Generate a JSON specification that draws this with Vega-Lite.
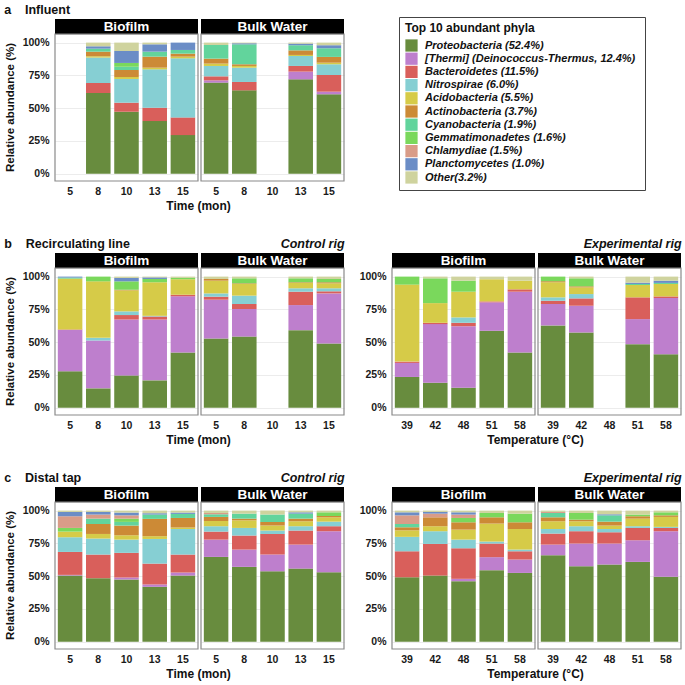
{
  "$schema": "https://vega.github.io/schema/vega-lite/v6.json",
  "padding": {"left": 4, "right": 1, "top": 3, "bottom": 2},
  "data": {"values": [
    {"panel":"a","type":"Biofilm","x":"8","Proteobacteria":0.616,"Bacteroidetes":0.076,"Nitrospirae":0.194,"Acidobacteria":0.010,"Actinobacteria":0.035,"Cyanobacteria":0.023,"Planctomycetes":0.018,"Other":0.028},
    {"panel":"a","type":"Biofilm","x":"10","Proteobacteria":0.473,"Bacteroidetes":0.069,"Nitrospirae":0.181,"Acidobacteria":0.015,"Actinobacteria":0.053,"Cyanobacteria":0.025,"Gemmatimonadetes":0.029,"Planctomycetes":0.091,"Other":0.064},
    {"panel":"a","type":"Biofilm","x":"13","Proteobacteria":0.402,"Bacteroidetes":0.102,"Nitrospirae":0.292,"Acidobacteria":0.013,"Actinobacteria":0.084,"Cyanobacteria":0.038,"Planctomycetes":0.056,"Other":0.013},
    {"panel":"a","type":"Biofilm","x":"15","Proteobacteria":0.295,"Bacteroidetes":0.135,"Nitrospirae":0.450,"Acidobacteria":0.013,"Actinobacteria":0.023,"Cyanobacteria":0.028,"Planctomycetes":0.056},
    {"panel":"a","type":"Bulk Water","x":"5","Proteobacteria":0.695,"Thermi":0.017,"Bacteroidetes":0.031,"Nitrospirae":0.079,"Acidobacteria":0.018,"Actinobacteria":0.038,"Cyanobacteria":0.104,"Other":0.018},
    {"panel":"a","type":"Bulk Water","x":"8","Proteobacteria":0.636,"Bacteroidetes":0.064,"Nitrospirae":0.109,"Acidobacteria":0.013,"Actinobacteria":0.013,"Cyanobacteria":0.152,"Planctomycetes":0.008,"Other":0.005},
    {"panel":"a","type":"Bulk Water","x":"13","Proteobacteria":0.720,"Thermi":0.059,"Bacteroidetes":0.043,"Nitrospirae":0.076,"Acidobacteria":0.008,"Actinobacteria":0.035,"Cyanobacteria":0.039,"Planctomycetes":0.012,"Other":0.008},
    {"panel":"a","type":"Bulk Water","x":"15","Proteobacteria":0.606,"Thermi":0.020,"Bacteroidetes":0.127,"Nitrospirae":0.082,"Acidobacteria":0.012,"Actinobacteria":0.044,"Cyanobacteria":0.066,"Planctomycetes":0.023,"Other":0.020},

    {"panel":"bc","type":"Biofilm","x":"5","Proteobacteria":0.278,"Thermi":0.316,"Bacteroidetes":0.003,"Acidobacteria":0.388,"Cyanobacteria":0.008,"Planctomycetes":0.007},
    {"panel":"bc","type":"Biofilm","x":"8","Proteobacteria":0.148,"Thermi":0.365,"Nitrospirae":0.020,"Acidobacteria":0.431,"Gemmatimonadetes":0.036},
    {"panel":"bc","type":"Biofilm","x":"10","Proteobacteria":0.247,"Thermi":0.426,"Bacteroidetes":0.034,"Nitrospirae":0.028,"Acidobacteria":0.160,"Actinobacteria":0.005,"Gemmatimonadetes":0.064,"Planctomycetes":0.026,"Other":0.010},
    {"panel":"bc","type":"Biofilm","x":"13","Proteobacteria":0.209,"Thermi":0.464,"Bacteroidetes":0.023,"Nitrospirae":0.005,"Acidobacteria":0.256,"Gemmatimonadetes":0.025,"Planctomycetes":0.012,"Other":0.006},
    {"panel":"bc","type":"Biofilm","x":"15","Proteobacteria":0.421,"Thermi":0.429,"Bacteroidetes":0.012,"Acidobacteria":0.118,"Gemmatimonadetes":0.010,"Other":0.010},
    {"panel":"bc","type":"Bulk Water","x":"5","Proteobacteria":0.528,"Thermi":0.296,"Bacteroidetes":0.023,"Nitrospirae":0.025,"Acidobacteria":0.097,"Actinobacteria":0.013,"Other":0.018},
    {"panel":"bc","type":"Bulk Water","x":"8","Proteobacteria":0.543,"Thermi":0.210,"Bacteroidetes":0.038,"Nitrospirae":0.064,"Acidobacteria":0.089,"Actinobacteria":0.005,"Gemmatimonadetes":0.038,"Other":0.013},
    {"panel":"bc","type":"Bulk Water","x":"13","Proteobacteria":0.592,"Thermi":0.191,"Bacteroidetes":0.102,"Nitrospirae":0.026,"Acidobacteria":0.041,"Actinobacteria":0.005,"Gemmatimonadetes":0.030,"Other":0.013},
    {"panel":"bc","type":"Bulk Water","x":"15","Proteobacteria":0.490,"Thermi":0.382,"Bacteroidetes":0.016,"Nitrospirae":0.023,"Acidobacteria":0.038,"Actinobacteria":0.008,"Gemmatimonadetes":0.025,"Other":0.018},

    {"panel":"be","type":"Biofilm","x":"39","Proteobacteria":0.235,"Thermi":0.107,"Bacteroidetes":0.010,"Acidobacteria":0.587,"Gemmatimonadetes":0.061},
    {"panel":"be","type":"Biofilm","x":"42","Proteobacteria":0.191,"Thermi":0.447,"Bacteroidetes":0.010,"Acidobacteria":0.150,"Gemmatimonadetes":0.189,"Other":0.013},
    {"panel":"be","type":"Biofilm","x":"48","Proteobacteria":0.153,"Thermi":0.469,"Bacteroidetes":0.026,"Nitrospirae":0.041,"Acidobacteria":0.196,"Gemmatimonadetes":0.084,"Other":0.031},
    {"panel":"be","type":"Biofilm","x":"51","Proteobacteria":0.587,"Thermi":0.217,"Bacteroidetes":0.007,"Acidobacteria":0.169,"Other":0.020},
    {"panel":"be","type":"Biofilm","x":"58","Proteobacteria":0.421,"Thermi":0.464,"Bacteroidetes":0.018,"Acidobacteria":0.066,"Other":0.031},
    {"panel":"be","type":"Bulk Water","x":"39","Proteobacteria":0.628,"Thermi":0.163,"Bacteroidetes":0.025,"Nitrospirae":0.026,"Acidobacteria":0.115,"Actinobacteria":0.008,"Gemmatimonadetes":0.035},
    {"panel":"be","type":"Bulk Water","x":"42","Proteobacteria":0.574,"Thermi":0.204,"Bacteroidetes":0.056,"Nitrospirae":0.033,"Acidobacteria":0.051,"Actinobacteria":0.008,"Gemmatimonadetes":0.061,"Other":0.013},
    {"panel":"be","type":"Bulk Water","x":"51","Proteobacteria":0.485,"Thermi":0.191,"Bacteroidetes":0.166,"Acidobacteria":0.094,"Cyanobacteria":0.008,"Planctomycetes":0.010,"Other":0.046},
    {"panel":"be","type":"Bulk Water","x":"58","Proteobacteria":0.408,"Thermi":0.429,"Bacteroidetes":0.012,"Acidobacteria":0.095,"Cyanobacteria":0.008,"Planctomycetes":0.017,"Other":0.031},

    {"panel":"cc","type":"Biofilm","x":"5","Proteobacteria":0.505,"Thermi":0.005,"Bacteroidetes":0.175,"Nitrospirae":0.112,"Acidobacteria":0.043,"Gemmatimonadetes":0.028,"Chlamydiae":0.089,"Planctomycetes":0.033,"Other":0.010},
    {"panel":"cc","type":"Biofilm","x":"8","Proteobacteria":0.485,"Bacteroidetes":0.180,"Nitrospirae":0.122,"Acidobacteria":0.035,"Actinobacteria":0.076,"Cyanobacteria":0.041,"Chlamydiae":0.031,"Planctomycetes":0.020,"Other":0.010},
    {"panel":"cc","type":"Biofilm","x":"10","Proteobacteria":0.475,"Thermi":0.015,"Bacteroidetes":0.188,"Nitrospirae":0.101,"Acidobacteria":0.033,"Actinobacteria":0.074,"Cyanobacteria":0.028,"Gemmatimonadetes":0.025,"Chlamydiae":0.025,"Planctomycetes":0.021,"Other":0.015},
    {"panel":"cc","type":"Biofilm","x":"13","Proteobacteria":0.419,"Thermi":0.018,"Bacteroidetes":0.159,"Nitrospirae":0.188,"Acidobacteria":0.021,"Actinobacteria":0.132,"Cyanobacteria":0.033,"Planctomycetes":0.010,"Other":0.020},
    {"panel":"cc","type":"Biofilm","x":"15","Proteobacteria":0.505,"Thermi":0.023,"Bacteroidetes":0.137,"Nitrospirae":0.195,"Acidobacteria":0.011,"Actinobacteria":0.073,"Cyanobacteria":0.031,"Planctomycetes":0.010,"Other":0.015},
    {"panel":"cc","type":"Bulk Water","x":"5","Proteobacteria":0.647,"Thermi":0.132,"Bacteroidetes":0.061,"Nitrospirae":0.041,"Acidobacteria":0.040,"Actinobacteria":0.031,"Cyanobacteria":0.020,"Chlamydiae":0.010,"Other":0.018},
    {"panel":"cc","type":"Bulk Water","x":"8","Proteobacteria":0.571,"Thermi":0.132,"Bacteroidetes":0.107,"Nitrospirae":0.058,"Acidobacteria":0.058,"Actinobacteria":0.013,"Cyanobacteria":0.038,"Other":0.023},
    {"panel":"cc","type":"Bulk Water","x":"10","Proteobacteria":0.538,"Thermi":0.127,"Bacteroidetes":0.157,"Nitrospirae":0.026,"Acidobacteria":0.038,"Actinobacteria":0.028,"Cyanobacteria":0.056,"Other":0.030},
    {"panel":"cc","type":"Bulk Water","x":"13","Proteobacteria":0.558,"Thermi":0.183,"Bacteroidetes":0.107,"Nitrospirae":0.033,"Acidobacteria":0.038,"Actinobacteria":0.020,"Cyanobacteria":0.038,"Planctomycetes":0.010,"Other":0.013},
    {"panel":"cc","type":"Bulk Water","x":"15","Proteobacteria":0.530,"Thermi":0.313,"Bacteroidetes":0.038,"Nitrospirae":0.035,"Acidobacteria":0.033,"Actinobacteria":0.010,"Gemmatimonadetes":0.028,"Other":0.013},

    {"panel":"ce","type":"Biofilm","x":"39","Proteobacteria":0.492,"Bacteroidetes":0.198,"Nitrospirae":0.110,"Acidobacteria":0.050,"Actinobacteria":0.023,"Cyanobacteria":0.025,"Chlamydiae":0.066,"Planctomycetes":0.023,"Other":0.013},
    {"panel":"ce","type":"Biofilm","x":"42","Proteobacteria":0.505,"Bacteroidetes":0.241,"Nitrospirae":0.097,"Acidobacteria":0.038,"Actinobacteria":0.068,"Chlamydiae":0.028,"Planctomycetes":0.013,"Other":0.010},
    {"panel":"ce","type":"Biofilm","x":"48","Proteobacteria":0.462,"Thermi":0.018,"Bacteroidetes":0.233,"Nitrospirae":0.066,"Acidobacteria":0.076,"Actinobacteria":0.056,"Gemmatimonadetes":0.033,"Chlamydiae":0.026,"Planctomycetes":0.017,"Other":0.013},
    {"panel":"ce","type":"Biofilm","x":"51","Proteobacteria":0.546,"Thermi":0.099,"Bacteroidetes":0.104,"Nitrospirae":0.015,"Acidobacteria":0.137,"Actinobacteria":0.048,"Gemmatimonadetes":0.033,"Other":0.018},
    {"panel":"ce","type":"Biofilm","x":"58","Proteobacteria":0.525,"Thermi":0.102,"Bacteroidetes":0.063,"Nitrospirae":0.013,"Acidobacteria":0.157,"Actinobacteria":0.051,"Gemmatimonadetes":0.066,"Other":0.023},
    {"panel":"ce","type":"Bulk Water","x":"39","Proteobacteria":0.660,"Thermi":0.081,"Bacteroidetes":0.084,"Nitrospirae":0.035,"Acidobacteria":0.059,"Actinobacteria":0.030,"Cyanobacteria":0.033,"Chlamydiae":0.008,"Other":0.010},
    {"panel":"ce","type":"Bulk Water","x":"42","Proteobacteria":0.576,"Thermi":0.173,"Bacteroidetes":0.094,"Nitrospirae":0.038,"Acidobacteria":0.038,"Actinobacteria":0.012,"Gemmatimonadetes":0.051,"Other":0.018},
    {"panel":"ce","type":"Bulk Water","x":"48","Proteobacteria":0.589,"Thermi":0.160,"Bacteroidetes":0.086,"Nitrospirae":0.025,"Acidobacteria":0.026,"Actinobacteria":0.030,"Cyanobacteria":0.048,"Planctomycetes":0.008,"Other":0.028},
    {"panel":"ce","type":"Bulk Water","x":"51","Proteobacteria":0.609,"Thermi":0.165,"Bacteroidetes":0.094,"Nitrospirae":0.013,"Acidobacteria":0.058,"Actinobacteria":0.018,"Gemmatimonadetes":0.013,"Other":0.030},
    {"panel":"ce","type":"Bulk Water","x":"58","Proteobacteria":0.495,"Thermi":0.348,"Bacteroidetes":0.025,"Nitrospirae":0.008,"Acidobacteria":0.076,"Actinobacteria":0.012,"Gemmatimonadetes":0.023,"Other":0.013}
  ]},
  "transform": [
    {"fold": ["Proteobacteria","Thermi","Bacteroidetes","Nitrospirae","Acidobacteria","Actinobacteria","Cyanobacteria","Gemmatimonadetes","Chlamydiae","Planctomycetes","Other"], "as": ["phylum","share"]},
    {"filter": "datum.share > 0"},
    {"window": [{"op": "row_number", "as": "rank"}], "groupby": ["panel","type","x"]}
  ],
  "spacing": 25,
  "vconcat": [
    {
      "hconcat": [
        {
          "width": 143, "height": 162,
          "title": {"text": "a\u00a0\u00a0\u00a0\u00a0Influent", "anchor": "start"},
          "layer": [
            {"transform": [{"filter": "datum.panel === 'a' && datum.type === 'Biofilm'"}],
             "mark": "bar",
             "encoding": {
               "x": {"field": "x", "type": "nominal", "scale": {"domain": ["5","8","10","13","15"], "paddingInner": 0.13, "paddingOuter": 0.1}, "axis": {"title": "Time (mon)", "titleAnchor": "end", "titleAlign": "center", "labelAngle": 0, "ticks": false, "domain": false, "labelPadding": 5, "labelFontSize": 10.5, "labelFontWeight": "bold", "titleFontSize": 12, "titleFontWeight": "bold", "titlePadding": 4}},
               "y": {"field": "share", "type": "quantitative", "scale": {"domain": [-0.055, 1.18], "nice": false, "zero": false}, "axis": {"values": [0,0.25,0.5,0.75,1], "format": ".0%", "title": "Relative abundance (%)", "titleY": 88, "ticks": false, "domain": false, "grid": true, "gridColor": "#ececec", "labelPadding": 6, "labelFontSize": 10.5, "labelFontWeight": "bold", "titleFontSize": 11.5, "titleFontWeight": "bold", "titlePadding": 7}},
               "color": {"field": "phylum", "type": "nominal",
                 "scale": {"domain": ["Proteobacteria","Thermi","Bacteroidetes","Nitrospirae","Acidobacteria","Actinobacteria","Cyanobacteria","Gemmatimonadetes","Chlamydiae","Planctomycetes","Other"], "range": ["#688C3E","#BE7FCD","#D95F5B","#86CFD3","#D6CB48","#CC8A36","#62D49C","#7AD85C","#D99C88","#6B8DC6","#CFD39E"]},
                 "legend": {"orient": "none", "legendX": 344, "legendY": -2, "title": "Top 10 abundant phyla", "padding": 6, "strokeColor": "#444444", "fillColor": "#ffffff", "titleFontSize": 12, "titleFontWeight": "bold", "titleColor": "#111111", "titlePadding": 4, "titleLimit": 300, "labelFontSize": 11, "labelFontStyle": "italic", "labelFontWeight": "bold", "labelColor": "#111111", "labelLimit": 300, "labelOffset": 7, "symbolType": "square", "symbolSize": 150, "symbolStrokeWidth": 0, "symbolOpacity": 1, "rowPadding": 0.2,
                   "labelExpr": "{'Proteobacteria':'Proteobacteria (52.4%)','Thermi':'[Thermi] (Deinococcus-Thermus,  12.4%)','Bacteroidetes':'Bacteroidetes (11.5%)','Nitrospirae':'Nitrospirae (6.0%)','Acidobacteria':'Acidobacteria (5.5%)','Actinobacteria':'Actinobacteria (3.7%)','Cyanobacteria':'Cyanobacteria (1.9%)','Gemmatimonadetes':'Gemmatimonadetes (1.6%)','Chlamydiae':'Chlamydiae (1.5%)','Planctomycetes':'Planctomycetes (1.0%)','Other':'Other(3.2%)'}[datum.label]"}},
               "order": {"field": "rank", "type": "quantitative"}
             }},
            {"data": {"values": [{"label": "Biofilm"}]},
             "layer": [
               {"mark": {"type": "rect", "color": "#000000"}, "encoding": {"y": {"datum": 1.065}, "y2": {"datum": 1.18}}},
               {"mark": {"type": "text", "color": "#ffffff", "fontWeight": "bold", "fontSize": 13.5, "baseline": "middle"}, "encoding": {"text": {"field": "label"}, "y": {"datum": 1.1225}}},
               {"mark": {"type": "rect", "fill": "#ffffff", "fillOpacity": 0, "stroke": "#8a8a8a", "strokeWidth": 1.2}, "encoding": {"y": {"datum": -0.055}, "y2": {"datum": 1.065}}}
             ]}
          ]
        },
        {
          "width": 143, "height": 162,
          "layer": [
            {"transform": [{"filter": "datum.panel === 'a' && datum.type === 'Bulk Water'"}],
             "mark": "bar",
             "encoding": {
               "x": {"field": "x", "type": "nominal", "scale": {"domain": ["5","8","10","13","15"], "paddingInner": 0.13, "paddingOuter": 0.1}, "axis": {"title": null, "labelAngle": 0, "ticks": false, "domain": false, "labelPadding": 5, "labelFontSize": 10.5, "labelFontWeight": "bold"}},
               "y": {"field": "share", "type": "quantitative", "scale": {"domain": [-0.055, 1.18], "nice": false, "zero": false}, "axis": {"values": [0,0.25,0.5,0.75,1], "labels": false, "title": null, "ticks": false, "domain": false, "grid": true, "gridColor": "#ececec"}},
               "color": {"field": "phylum", "type": "nominal", "legend": null,
                 "scale": {"domain": ["Proteobacteria","Thermi","Bacteroidetes","Nitrospirae","Acidobacteria","Actinobacteria","Cyanobacteria","Gemmatimonadetes","Chlamydiae","Planctomycetes","Other"], "range": ["#688C3E","#BE7FCD","#D95F5B","#86CFD3","#D6CB48","#CC8A36","#62D49C","#7AD85C","#D99C88","#6B8DC6","#CFD39E"]}},
               "order": {"field": "rank", "type": "quantitative"}
             }},
            {"data": {"values": [{"label": "Bulk Water"}]},
             "layer": [
               {"mark": {"type": "rect", "color": "#000000"}, "encoding": {"y": {"datum": 1.065}, "y2": {"datum": 1.18}}},
               {"mark": {"type": "text", "color": "#ffffff", "fontWeight": "bold", "fontSize": 13.5, "baseline": "middle"}, "encoding": {"text": {"field": "label"}, "y": {"datum": 1.1225}}},
               {"mark": {"type": "rect", "fill": "#ffffff", "fillOpacity": 0, "stroke": "#8a8a8a", "strokeWidth": 1.2}, "encoding": {"y": {"datum": -0.055}, "y2": {"datum": 1.065}}}
             ]}
          ]
        }
      ],
      "spacing": 3,
      "bounds": "flush"
    },
    {
      "spacing": 14,
      "hconcat": [
        {
          "spacing": 3, "bounds": "flush",
          "hconcat": [
            {
              "width": 143, "height": 162,
              "title": {"text": "b\u00a0\u00a0\u00a0\u00a0Recirculating line", "anchor": "start"},
              "layer": [
                {"transform": [{"filter": "datum.panel === 'bc' && datum.type === 'Biofilm'"}],
                 "mark": "bar",
                 "encoding": {
                   "x": {"field": "x", "type": "nominal", "scale": {"domain": ["5","8","10","13","15"], "paddingInner": 0.13, "paddingOuter": 0.1}, "axis": {"title": "Time (mon)", "titleAnchor": "end", "titleAlign": "center", "labelAngle": 0, "ticks": false, "domain": false, "labelPadding": 5, "labelFontSize": 10.5, "labelFontWeight": "bold", "titleFontSize": 12, "titleFontWeight": "bold", "titlePadding": 4}},
                   "y": {"field": "share", "type": "quantitative", "scale": {"domain": [-0.055, 1.18], "nice": false, "zero": false}, "axis": {"values": [0,0.25,0.5,0.75,1], "format": ".0%", "title": "Relative abundance (%)", "titleY": 88, "ticks": false, "domain": false, "grid": true, "gridColor": "#ececec", "labelPadding": 6, "labelFontSize": 10.5, "labelFontWeight": "bold", "titleFontSize": 11.5, "titleFontWeight": "bold", "titlePadding": 7}},
                   "color": {"field": "phylum", "type": "nominal", "legend": null,
                     "scale": {"domain": ["Proteobacteria","Thermi","Bacteroidetes","Nitrospirae","Acidobacteria","Actinobacteria","Cyanobacteria","Gemmatimonadetes","Chlamydiae","Planctomycetes","Other"], "range": ["#688C3E","#BE7FCD","#D95F5B","#86CFD3","#D6CB48","#CC8A36","#62D49C","#7AD85C","#D99C88","#6B8DC6","#CFD39E"]}},
                   "order": {"field": "rank", "type": "quantitative"}
                 }},
                {"data": {"values": [{"label": "Biofilm"}]},
                 "layer": [
                   {"mark": {"type": "rect", "color": "#000000"}, "encoding": {"y": {"datum": 1.065}, "y2": {"datum": 1.18}}},
                   {"mark": {"type": "text", "color": "#ffffff", "fontWeight": "bold", "fontSize": 13.5, "baseline": "middle"}, "encoding": {"text": {"field": "label"}, "y": {"datum": 1.1225}}},
                   {"mark": {"type": "rect", "fill": "#ffffff", "fillOpacity": 0, "stroke": "#8a8a8a", "strokeWidth": 1.2}, "encoding": {"y": {"datum": -0.055}, "y2": {"datum": 1.065}}}
                 ]}
              ]
            },
            {
              "width": 143, "height": 162,
              "title": {"text": "Control rig", "anchor": "end", "fontStyle": "italic"},
              "layer": [
                {"transform": [{"filter": "datum.panel === 'bc' && datum.type === 'Bulk Water'"}],
                 "mark": "bar",
                 "encoding": {
                   "x": {"field": "x", "type": "nominal", "scale": {"domain": ["5","8","10","13","15"], "paddingInner": 0.13, "paddingOuter": 0.1}, "axis": {"title": null, "labelAngle": 0, "ticks": false, "domain": false, "labelPadding": 5, "labelFontSize": 10.5, "labelFontWeight": "bold"}},
                   "y": {"field": "share", "type": "quantitative", "scale": {"domain": [-0.055, 1.18], "nice": false, "zero": false}, "axis": {"values": [0,0.25,0.5,0.75,1], "labels": false, "title": null, "ticks": false, "domain": false, "grid": true, "gridColor": "#ececec"}},
                   "color": {"field": "phylum", "type": "nominal", "legend": null,
                     "scale": {"domain": ["Proteobacteria","Thermi","Bacteroidetes","Nitrospirae","Acidobacteria","Actinobacteria","Cyanobacteria","Gemmatimonadetes","Chlamydiae","Planctomycetes","Other"], "range": ["#688C3E","#BE7FCD","#D95F5B","#86CFD3","#D6CB48","#CC8A36","#62D49C","#7AD85C","#D99C88","#6B8DC6","#CFD39E"]}},
                   "order": {"field": "rank", "type": "quantitative"}
                 }},
                {"data": {"values": [{"label": "Bulk Water"}]},
                 "layer": [
                   {"mark": {"type": "rect", "color": "#000000"}, "encoding": {"y": {"datum": 1.065}, "y2": {"datum": 1.18}}},
                   {"mark": {"type": "text", "color": "#ffffff", "fontWeight": "bold", "fontSize": 13.5, "baseline": "middle"}, "encoding": {"text": {"field": "label"}, "y": {"datum": 1.1225}}},
                   {"mark": {"type": "rect", "fill": "#ffffff", "fillOpacity": 0, "stroke": "#8a8a8a", "strokeWidth": 1.2}, "encoding": {"y": {"datum": -0.055}, "y2": {"datum": 1.065}}}
                 ]}
              ]
            }
          ]
        },
        {
          "spacing": 3, "bounds": "flush",
          "hconcat": [
            {
              "width": 143, "height": 162,
              "layer": [
                {"transform": [{"filter": "datum.panel === 'be' && datum.type === 'Biofilm'"}],
                 "mark": "bar",
                 "encoding": {
                   "x": {"field": "x", "type": "nominal", "scale": {"domain": ["39","42","48","51","58"], "paddingInner": 0.13, "paddingOuter": 0.1}, "axis": {"title": "Temperature (°C)", "titleAnchor": "end", "titleAlign": "center", "labelAngle": 0, "ticks": false, "domain": false, "labelPadding": 5, "labelFontSize": 10.5, "labelFontWeight": "bold", "titleFontSize": 12, "titleFontWeight": "bold", "titlePadding": 4}},
                   "y": {"field": "share", "type": "quantitative", "scale": {"domain": [-0.055, 1.18], "nice": false, "zero": false}, "axis": {"values": [0,0.25,0.5,0.75,1], "format": ".0%", "title": null, "ticks": false, "domain": false, "grid": true, "gridColor": "#ececec", "labelPadding": 6, "labelFontSize": 10.5, "labelFontWeight": "bold"}},
                   "color": {"field": "phylum", "type": "nominal", "legend": null,
                     "scale": {"domain": ["Proteobacteria","Thermi","Bacteroidetes","Nitrospirae","Acidobacteria","Actinobacteria","Cyanobacteria","Gemmatimonadetes","Chlamydiae","Planctomycetes","Other"], "range": ["#688C3E","#BE7FCD","#D95F5B","#86CFD3","#D6CB48","#CC8A36","#62D49C","#7AD85C","#D99C88","#6B8DC6","#CFD39E"]}},
                   "order": {"field": "rank", "type": "quantitative"}
                 }},
                {"data": {"values": [{"label": "Biofilm"}]},
                 "layer": [
                   {"mark": {"type": "rect", "color": "#000000"}, "encoding": {"y": {"datum": 1.065}, "y2": {"datum": 1.18}}},
                   {"mark": {"type": "text", "color": "#ffffff", "fontWeight": "bold", "fontSize": 13.5, "baseline": "middle"}, "encoding": {"text": {"field": "label"}, "y": {"datum": 1.1225}}},
                   {"mark": {"type": "rect", "fill": "#ffffff", "fillOpacity": 0, "stroke": "#8a8a8a", "strokeWidth": 1.2}, "encoding": {"y": {"datum": -0.055}, "y2": {"datum": 1.065}}}
                 ]}
              ]
            },
            {
              "width": 143, "height": 162,
              "title": {"text": "Experimental rig", "anchor": "end", "fontStyle": "italic"},
              "layer": [
                {"transform": [{"filter": "datum.panel === 'be' && datum.type === 'Bulk Water'"}],
                 "mark": "bar",
                 "encoding": {
                   "x": {"field": "x", "type": "nominal", "scale": {"domain": ["39","42","48","51","58"], "paddingInner": 0.13, "paddingOuter": 0.1}, "axis": {"title": null, "labelAngle": 0, "ticks": false, "domain": false, "labelPadding": 5, "labelFontSize": 10.5, "labelFontWeight": "bold"}},
                   "y": {"field": "share", "type": "quantitative", "scale": {"domain": [-0.055, 1.18], "nice": false, "zero": false}, "axis": {"values": [0,0.25,0.5,0.75,1], "labels": false, "title": null, "ticks": false, "domain": false, "grid": true, "gridColor": "#ececec"}},
                   "color": {"field": "phylum", "type": "nominal", "legend": null,
                     "scale": {"domain": ["Proteobacteria","Thermi","Bacteroidetes","Nitrospirae","Acidobacteria","Actinobacteria","Cyanobacteria","Gemmatimonadetes","Chlamydiae","Planctomycetes","Other"], "range": ["#688C3E","#BE7FCD","#D95F5B","#86CFD3","#D6CB48","#CC8A36","#62D49C","#7AD85C","#D99C88","#6B8DC6","#CFD39E"]}},
                   "order": {"field": "rank", "type": "quantitative"}
                 }},
                {"data": {"values": [{"label": "Bulk Water"}]},
                 "layer": [
                   {"mark": {"type": "rect", "color": "#000000"}, "encoding": {"y": {"datum": 1.065}, "y2": {"datum": 1.18}}},
                   {"mark": {"type": "text", "color": "#ffffff", "fontWeight": "bold", "fontSize": 13.5, "baseline": "middle"}, "encoding": {"text": {"field": "label"}, "y": {"datum": 1.1225}}},
                   {"mark": {"type": "rect", "fill": "#ffffff", "fillOpacity": 0, "stroke": "#8a8a8a", "strokeWidth": 1.2}, "encoding": {"y": {"datum": -0.055}, "y2": {"datum": 1.065}}}
                 ]}
              ]
            }
          ]
        }
      ]
    },
    {
      "spacing": 14,
      "hconcat": [
        {
          "spacing": 3, "bounds": "flush",
          "hconcat": [
            {
              "width": 143, "height": 162,
              "title": {"text": "c\u00a0\u00a0\u00a0\u00a0Distal tap", "anchor": "start"},
              "layer": [
                {"transform": [{"filter": "datum.panel === 'cc' && datum.type === 'Biofilm'"}],
                 "mark": "bar",
                 "encoding": {
                   "x": {"field": "x", "type": "nominal", "scale": {"domain": ["5","8","10","13","15"], "paddingInner": 0.13, "paddingOuter": 0.1}, "axis": {"title": "Time (mon)", "titleAnchor": "end", "titleAlign": "center", "labelAngle": 0, "ticks": false, "domain": false, "labelPadding": 5, "labelFontSize": 10.5, "labelFontWeight": "bold", "titleFontSize": 12, "titleFontWeight": "bold", "titlePadding": 4}},
                   "y": {"field": "share", "type": "quantitative", "scale": {"domain": [-0.055, 1.18], "nice": false, "zero": false}, "axis": {"values": [0,0.25,0.5,0.75,1], "format": ".0%", "title": "Relative abundance (%)", "titleY": 88, "ticks": false, "domain": false, "grid": true, "gridColor": "#ececec", "labelPadding": 6, "labelFontSize": 10.5, "labelFontWeight": "bold", "titleFontSize": 11.5, "titleFontWeight": "bold", "titlePadding": 7}},
                   "color": {"field": "phylum", "type": "nominal", "legend": null,
                     "scale": {"domain": ["Proteobacteria","Thermi","Bacteroidetes","Nitrospirae","Acidobacteria","Actinobacteria","Cyanobacteria","Gemmatimonadetes","Chlamydiae","Planctomycetes","Other"], "range": ["#688C3E","#BE7FCD","#D95F5B","#86CFD3","#D6CB48","#CC8A36","#62D49C","#7AD85C","#D99C88","#6B8DC6","#CFD39E"]}},
                   "order": {"field": "rank", "type": "quantitative"}
                 }},
                {"data": {"values": [{"label": "Biofilm"}]},
                 "layer": [
                   {"mark": {"type": "rect", "color": "#000000"}, "encoding": {"y": {"datum": 1.065}, "y2": {"datum": 1.18}}},
                   {"mark": {"type": "text", "color": "#ffffff", "fontWeight": "bold", "fontSize": 13.5, "baseline": "middle"}, "encoding": {"text": {"field": "label"}, "y": {"datum": 1.1225}}},
                   {"mark": {"type": "rect", "fill": "#ffffff", "fillOpacity": 0, "stroke": "#8a8a8a", "strokeWidth": 1.2}, "encoding": {"y": {"datum": -0.055}, "y2": {"datum": 1.065}}}
                 ]}
              ]
            },
            {
              "width": 143, "height": 162,
              "title": {"text": "Control rig", "anchor": "end", "fontStyle": "italic"},
              "layer": [
                {"transform": [{"filter": "datum.panel === 'cc' && datum.type === 'Bulk Water'"}],
                 "mark": "bar",
                 "encoding": {
                   "x": {"field": "x", "type": "nominal", "scale": {"domain": ["5","8","10","13","15"], "paddingInner": 0.13, "paddingOuter": 0.1}, "axis": {"title": null, "labelAngle": 0, "ticks": false, "domain": false, "labelPadding": 5, "labelFontSize": 10.5, "labelFontWeight": "bold"}},
                   "y": {"field": "share", "type": "quantitative", "scale": {"domain": [-0.055, 1.18], "nice": false, "zero": false}, "axis": {"values": [0,0.25,0.5,0.75,1], "labels": false, "title": null, "ticks": false, "domain": false, "grid": true, "gridColor": "#ececec"}},
                   "color": {"field": "phylum", "type": "nominal", "legend": null,
                     "scale": {"domain": ["Proteobacteria","Thermi","Bacteroidetes","Nitrospirae","Acidobacteria","Actinobacteria","Cyanobacteria","Gemmatimonadetes","Chlamydiae","Planctomycetes","Other"], "range": ["#688C3E","#BE7FCD","#D95F5B","#86CFD3","#D6CB48","#CC8A36","#62D49C","#7AD85C","#D99C88","#6B8DC6","#CFD39E"]}},
                   "order": {"field": "rank", "type": "quantitative"}
                 }},
                {"data": {"values": [{"label": "Bulk Water"}]},
                 "layer": [
                   {"mark": {"type": "rect", "color": "#000000"}, "encoding": {"y": {"datum": 1.065}, "y2": {"datum": 1.18}}},
                   {"mark": {"type": "text", "color": "#ffffff", "fontWeight": "bold", "fontSize": 13.5, "baseline": "middle"}, "encoding": {"text": {"field": "label"}, "y": {"datum": 1.1225}}},
                   {"mark": {"type": "rect", "fill": "#ffffff", "fillOpacity": 0, "stroke": "#8a8a8a", "strokeWidth": 1.2}, "encoding": {"y": {"datum": -0.055}, "y2": {"datum": 1.065}}}
                 ]}
              ]
            }
          ]
        },
        {
          "spacing": 3, "bounds": "flush",
          "hconcat": [
            {
              "width": 143, "height": 162,
              "layer": [
                {"transform": [{"filter": "datum.panel === 'ce' && datum.type === 'Biofilm'"}],
                 "mark": "bar",
                 "encoding": {
                   "x": {"field": "x", "type": "nominal", "scale": {"domain": ["39","42","48","51","58"], "paddingInner": 0.13, "paddingOuter": 0.1}, "axis": {"title": "Temperature (°C)", "titleAnchor": "end", "titleAlign": "center", "labelAngle": 0, "ticks": false, "domain": false, "labelPadding": 5, "labelFontSize": 10.5, "labelFontWeight": "bold", "titleFontSize": 12, "titleFontWeight": "bold", "titlePadding": 4}},
                   "y": {"field": "share", "type": "quantitative", "scale": {"domain": [-0.055, 1.18], "nice": false, "zero": false}, "axis": {"values": [0,0.25,0.5,0.75,1], "format": ".0%", "title": null, "ticks": false, "domain": false, "grid": true, "gridColor": "#ececec", "labelPadding": 6, "labelFontSize": 10.5, "labelFontWeight": "bold"}},
                   "color": {"field": "phylum", "type": "nominal", "legend": null,
                     "scale": {"domain": ["Proteobacteria","Thermi","Bacteroidetes","Nitrospirae","Acidobacteria","Actinobacteria","Cyanobacteria","Gemmatimonadetes","Chlamydiae","Planctomycetes","Other"], "range": ["#688C3E","#BE7FCD","#D95F5B","#86CFD3","#D6CB48","#CC8A36","#62D49C","#7AD85C","#D99C88","#6B8DC6","#CFD39E"]}},
                   "order": {"field": "rank", "type": "quantitative"}
                 }},
                {"data": {"values": [{"label": "Biofilm"}]},
                 "layer": [
                   {"mark": {"type": "rect", "color": "#000000"}, "encoding": {"y": {"datum": 1.065}, "y2": {"datum": 1.18}}},
                   {"mark": {"type": "text", "color": "#ffffff", "fontWeight": "bold", "fontSize": 13.5, "baseline": "middle"}, "encoding": {"text": {"field": "label"}, "y": {"datum": 1.1225}}},
                   {"mark": {"type": "rect", "fill": "#ffffff", "fillOpacity": 0, "stroke": "#8a8a8a", "strokeWidth": 1.2}, "encoding": {"y": {"datum": -0.055}, "y2": {"datum": 1.065}}}
                 ]}
              ]
            },
            {
              "width": 143, "height": 162,
              "title": {"text": "Experimental rig", "anchor": "end", "fontStyle": "italic"},
              "layer": [
                {"transform": [{"filter": "datum.panel === 'ce' && datum.type === 'Bulk Water'"}],
                 "mark": "bar",
                 "encoding": {
                   "x": {"field": "x", "type": "nominal", "scale": {"domain": ["39","42","48","51","58"], "paddingInner": 0.13, "paddingOuter": 0.1}, "axis": {"title": null, "labelAngle": 0, "ticks": false, "domain": false, "labelPadding": 5, "labelFontSize": 10.5, "labelFontWeight": "bold"}},
                   "y": {"field": "share", "type": "quantitative", "scale": {"domain": [-0.055, 1.18], "nice": false, "zero": false}, "axis": {"values": [0,0.25,0.5,0.75,1], "labels": false, "title": null, "ticks": false, "domain": false, "grid": true, "gridColor": "#ececec"}},
                   "color": {"field": "phylum", "type": "nominal", "legend": null,
                     "scale": {"domain": ["Proteobacteria","Thermi","Bacteroidetes","Nitrospirae","Acidobacteria","Actinobacteria","Cyanobacteria","Gemmatimonadetes","Chlamydiae","Planctomycetes","Other"], "range": ["#688C3E","#BE7FCD","#D95F5B","#86CFD3","#D6CB48","#CC8A36","#62D49C","#7AD85C","#D99C88","#6B8DC6","#CFD39E"]}},
                   "order": {"field": "rank", "type": "quantitative"}
                 }},
                {"data": {"values": [{"label": "Bulk Water"}]},
                 "layer": [
                   {"mark": {"type": "rect", "color": "#000000"}, "encoding": {"y": {"datum": 1.065}, "y2": {"datum": 1.18}}},
                   {"mark": {"type": "text", "color": "#ffffff", "fontWeight": "bold", "fontSize": 13.5, "baseline": "middle"}, "encoding": {"text": {"field": "label"}, "y": {"datum": 1.1225}}},
                   {"mark": {"type": "rect", "fill": "#ffffff", "fillOpacity": 0, "stroke": "#8a8a8a", "strokeWidth": 1.2}, "encoding": {"y": {"datum": -0.055}, "y2": {"datum": 1.065}}}
                 ]}
              ]
            }
          ]
        }
      ]
    }
  ],
  "config": {
    "font": "Liberation Sans",
    "view": {"stroke": null},
    "title": {"fontSize": 12.5, "fontWeight": "bold", "color": "#111111", "offset": 3, "frame": "bounds"},
    "axis": {"labelColor": "#1a1a1a", "titleColor": "#111111"}
  }
}
